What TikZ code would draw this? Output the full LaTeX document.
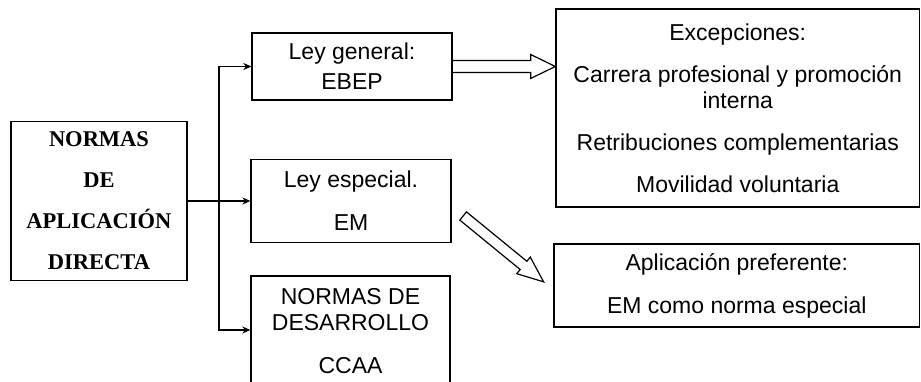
\documentclass[tikz,border=0pt]{standalone}
\usepackage{fontspec}
\setmainfont{Liberation Sans}
\newfontfamily\romanfont{Liberation Serif}
\usetikzlibrary{calc,arrows.meta}

\tikzset{
  caja/.style={draw,line width=1.3pt,align=center,inner sep=0pt},
  flecha/.style={line width=1.3pt,->,>={Stealth[length=8pt,width=7pt]}},
  hueca/.style={line width=1.2pt,line join=miter}
}

\begin{document}
\begin{tikzpicture}[x=1pt,y=-1pt]
\clip (0,0) rectangle (921,382);

\node[caja,minimum width=176,minimum height=159,font=\romanfont\bfseries\fontsize{22.5}{41}\selectfont] (directa) at (99,201) {NORMAS\\DE\\APLICACIÓN\\DIRECTA};

\node[caja,minimum width=200,minimum height=67,font=\fontsize{23}{30}\selectfont] (general) at (352,66.5) {Ley general:\\EBEP};
\node[caja,minimum width=200,minimum height=83,font=\fontsize{23}{43}\selectfont] (especial) at (351,201) {Ley especial.\\EM};
\node[caja,minimum width=199,minimum height=111,font=\fontsize{23}{26}\selectfont] (desarrollo) at (350.5,331.5) {NORMAS DE\\DESARROLLO\\[17pt]CCAA};

\node[caja,minimum width=363.5,minimum height=198,font=\fontsize{23}{26}\selectfont] (excepciones) at (737.75,108) {Excepciones:\\[16pt]Carrera profesional y promoción\\interna\\[16pt]Retribuciones complementarias\\[16pt]Movilidad voluntaria};
\node[caja,minimum width=365.5,minimum height=83,font=\fontsize{23}{43}\selectfont] (aplicacion) at (736.75,285.5) {Aplicación preferente:\\EM como norma especial};

% ramas
\coordinate (rama) at ($(directa.east)!0.5!(especial.west)$);
\draw[flecha] (directa.east) -- (especial.west);
\draw[flecha] (rama) |- (general.west);
\draw[flecha] (rama) |- ($(desarrollo.west)+(0,-1.5)$);

% flechas huecas
\draw[hueca] ($(general.east)+(0,-6)$) -- ($(general.east)+(78,-6)$) -- ($(general.east)+(78,-12)$)
  -- (excepciones.west |- general.east) -- ($(general.east)+(78,12)$) -- ($(general.east)+(78,6)$) -- ($(general.east)+(0,6)$);

\coordinate (cola) at ($(especial.east)+(11.5,15)$);
\begin{scope}[shift={(cola)},rotate=-39.3]
\draw[hueca] (0,-5.3) -- (78,-5.3) -- (78,-10.7) -- (104,0) -- (78,10.7) -- (78,5.3) -- (0,5.3) -- cycle;
\end{scope}
\end{tikzpicture}
\end{document}
